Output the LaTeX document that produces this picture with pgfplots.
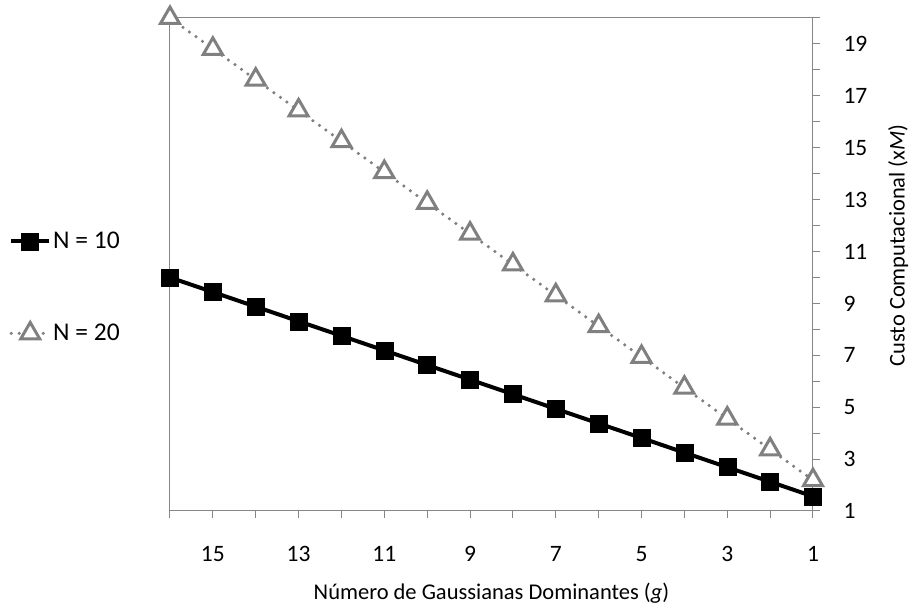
\documentclass[border=0pt]{standalone}
\usepackage{pgfplots}
\pgfplotsset{compat=1.18}
\usepackage{fontspec}
\setmainfont{Carlito}
\definecolor{ser2}{RGB}{128,128,128}
\definecolor{axgray}{RGB}{134,134,134}
\pgfplotstableread{
g n10 n20
16 10.0000 20.0000
15 9.4375 18.8125
14 8.8750 17.6250
13 8.3125 16.4375
12 7.7500 15.2500
11 7.1875 14.0625
10 6.6250 12.8750
9 6.0625 11.6875
8 5.5000 10.5000
7 4.9375 9.3125
6 4.3750 8.1250
5 3.8125 6.9375
4 3.2500 5.7500
3 2.6875 4.5625
2 2.1250 3.3750
1 1.5625 2.1875
}\datatable
\begin{document}
\begin{tikzpicture}
\path[use as bounding box] (0pt,0pt) rectangle (921pt,615pt);
\begin{axis}[
  at={(170pt,104pt)}, anchor=south west,
  scale only axis, width=643pt, height=493pt,
  x dir=reverse, xmin=1, xmax=16, ymin=1, ymax=20,
  xtick={1,3,...,15}, minor xtick={2,4,...,16},
  ytick={1,3,...,19}, minor ytick={2,4,...,20},
  xtick pos=bottom, ytick pos=right, yticklabel pos=right,
  tick align=outside,
  major tick length=7pt, minor tick length=7pt,
  tick style={axgray, line width=1pt},
  axis line style={axgray, line width=1pt},
  /pgf/number format/assume math mode=true,
  ticklabel style={font=\fontsize{23.5}{27}\selectfont},
  xticklabel style={yshift=-25pt},
  yticklabel style={xshift=20pt},
  xlabel={Número de Gaussianas Dominantes (\textit{g})},
  ylabel={Custo Computacional (x\textit{M})},
  xlabel style={font=\fontsize{22.5}{26}\selectfont, yshift=-14pt},
  ylabel near ticks,
  ylabel style={font=\fontsize{22.5}{26}\selectfont, yshift=-14pt, xshift=19pt},
  legend style={at={(-0.255,0.4535)}, anchor=west, draw=none, fill=none,
    font=\fontsize{25.5}{28}\selectfont, row sep=70pt,
    /tikz/every even column/.append style={column sep=1pt}},
  legend cell align=left,
  legend image code/.code={\draw[mark repeat=2,mark phase=2,#1] plot coordinates {(0pt,0pt)(19pt,0pt)(38pt,0pt)};},
  clip=false,
]
\addplot[black, line width=4pt, mark=square*, mark size=8.5pt,
  mark options={solid, fill=black, line width=0.5pt}]
  table[x=g, y=n10] {\datatable};
\addlegendentry{N = 10}
\addplot[ser2, line width=3.5pt, line cap=round, dash pattern=on 0pt off 8pt,
  mark=triangle*, mark size=11pt,
  mark options={solid, fill=white, draw=ser2, line width=3pt, line cap=butt}]
  table[x=g, y=n20] {\datatable};
\addlegendentry{N = 20}
\end{axis}
\end{tikzpicture}
\end{document}
